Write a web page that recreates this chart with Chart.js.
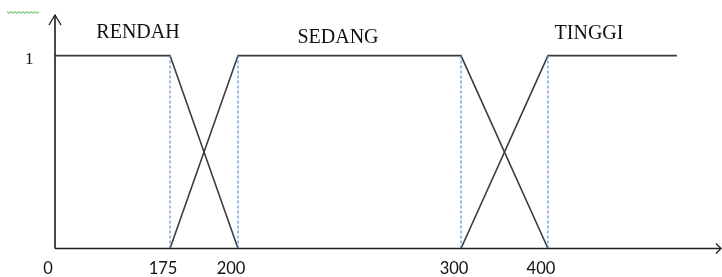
<!DOCTYPE html>
<html>
<head>
<meta charset="utf-8">
<title>Fungsi keanggotaan</title>
<script src="https://cdn.jsdelivr.net/npm/chart.js@4/dist/chart.umd.min.js"></script>
<style>
    html, body { margin: 0; padding: 0; background: #fff; }
    #chart { display: block; }
</style>
</head>
<body>
<canvas id="chart" width="722" height="277"></canvas>
<script>
// Membership sets and their break points
const categories = ['RENDAH', 'SEDANG', 'TINGGI'];
const xTicks = [0, 175, 200, 300, 400];
const yTicks = [1];

const rendahX = [0, 175, 200];
const rendahY = [1, 1, 0];
const sedangX = [175, 200, 300, 400];
const sedangY = [0, 1, 1, 0];
const tinggiX = [300, 400, 500];
const tinggiY = [0, 1, 1];

// dashed guides at the break points
const guideX = [175, 200, 300, 400];

function toPoints(xs, ys) {
    return xs.map((x, i) => ({ x: x, y: ys[i] }));
}

// The drawing is not to scale, so the x axis is stretched piece by piece
class PiecewiseScale extends Chart.LinearScale {
    getPixelForValue(value) {
        const k = this.options.knots;
        let f = 0;
        for (let i = 1; i < k.length; i++) {
            if (value <= k[i][0] || i === k.length - 1) {
                const v0 = k[i - 1][0], f0 = k[i - 1][1];
                const v1 = k[i][0], f1 = k[i][1];
                f = f0 + (value - v0) / (v1 - v0) * (f1 - f0);
                break;
            }
        }
        return this.getPixelForDecimal(f);
    }
    getValueForPixel(pixel) {
        const k = this.options.knots;
        const f = this.getDecimalForPixel(pixel);
        for (let i = 1; i < k.length; i++) {
            if (f <= k[i][1] || i === k.length - 1) {
                const v0 = k[i - 1][0], f0 = k[i - 1][1];
                const v1 = k[i][0], f1 = k[i][1];
                return v0 + (f - f0) / (f1 - f0) * (v1 - v0);
            }
        }
        return 0;
    }
}
PiecewiseScale.id = 'piecewise';
Chart.register(PiecewiseScale);

const lineColor = '#3c3c3c';
const guideColor = '#5a8ed4';

const datasets = [];
guideX.forEach(function(x) {
    datasets.push({
        data: toPoints([x, x], [0, 1]),
        borderColor: guideColor,
        borderWidth: 1.2,
        borderDash: [3, 2],
        pointRadius: 0
    });
});
[[rendahX, rendahY], [sedangX, sedangY], [tinggiX, tinggiY]].forEach(function(s) {
    datasets.push({
        data: toPoints(s[0], s[1]),
        borderColor: lineColor,
        borderWidth: 1.6,
        pointRadius: 0
    });
});

// axes with arrow heads, set names and the little green squiggle
const decorPlugin = {
    id: 'decor',
    afterDatasetsDraw(chart, args, opts) {
        const ctx = chart.ctx;
        const a = chart.chartArea;
        ctx.save();
        ctx.strokeStyle = '#1e1e1e';
        ctx.lineWidth = 1.6;
        ctx.beginPath();
        ctx.moveTo(a.left, a.bottom);
        ctx.lineTo(a.left, a.top - 2);
        ctx.moveTo(a.left, a.bottom);
        ctx.lineTo(a.right, a.bottom);
        ctx.stroke();

        ctx.lineWidth = 1.3;
        ctx.beginPath();
        ctx.moveTo(a.left - 6, a.top + 8);
        ctx.lineTo(a.left, a.top - 2);
        ctx.lineTo(a.left + 6, a.top + 8);
        ctx.moveTo(a.right - 5, a.bottom - 5);
        ctx.lineTo(a.right, a.bottom);
        ctx.lineTo(a.right - 5, a.bottom + 5);
        ctx.stroke();

        ctx.fillStyle = '#111';
        ctx.font = '20px "Liberation Serif"';
        ctx.textAlign = 'center';
        ctx.textBaseline = 'middle';
        categories.forEach(function(name, i) {
            const p = opts.labelPos[i];
            ctx.fillText(name, p[0], p[1]);
        });

        ctx.strokeStyle = '#3dae49';
        ctx.lineWidth = 1;
        ctx.beginPath();
        for (let x = 7; x <= 39; x += 2) {
            const y = 12.5 + ((x - 7) % 4 === 0 ? -0.8 : 0.8);
            if (x === 7) ctx.moveTo(x, y); else ctx.lineTo(x, y);
        }
        ctx.stroke();
        ctx.restore();
    }
};

new Chart(document.getElementById('chart'), {
    type: 'line',
    data: { datasets: datasets },
    options: {
        responsive: false,
        animation: false,
        layout: { padding: { top: 17, right: 1, left: 0, bottom: 0 } },
        plugins: {
            legend: { display: false },
            tooltip: { enabled: false },
            decor: { labelPos: [[138, 33], [338, 38], [589, 34]] }
        },
        scales: {
            x: {
                type: 'piecewise',
                min: 0,
                max: 540,
                knots: [[0, 0], [175, 0.1727], [200, 0.2748], [300, 0.6096], [400, 0.7402], [500, 0.9339], [540, 1]],
                afterBuildTicks: function(scale) {
                    scale.ticks = xTicks.map(v => ({ value: v }));
                },
                afterFit: function(scale) {
                    scale.height = 28.5;
                    scale.paddingLeft = 0;
                    scale.paddingRight = 0;
                },
                grid: { display: false, drawTicks: false },
                border: { display: false },
                ticks: {
                    autoSkip: false,
                    maxRotation: 0,
                    padding: 10.5,
                    labelOffset: -7,
                    color: '#111',
                    font: { family: 'Lato', size: 16.5 },
                    callback: v => String(v)
                }
            },
            y: {
                type: 'linear',
                min: 0,
                max: 1.2,
                afterBuildTicks: function(scale) {
                    scale.ticks = yTicks.map(v => ({ value: v }));
                },
                afterFit: function(scale) {
                    scale.width = 55;
                    scale.paddingTop = 0;
                    scale.paddingBottom = 0;
                },
                grid: { display: false, drawTicks: false },
                border: { display: false },
                ticks: {
                    padding: 21.5,
                    labelOffset: 3.5,
                    color: '#111',
                    font: { family: 'Liberation Serif', size: 17 },
                    callback: v => String(v)
                }
            }
        }
    },
    plugins: [decorPlugin]
});
</script>
</body>
</html>
